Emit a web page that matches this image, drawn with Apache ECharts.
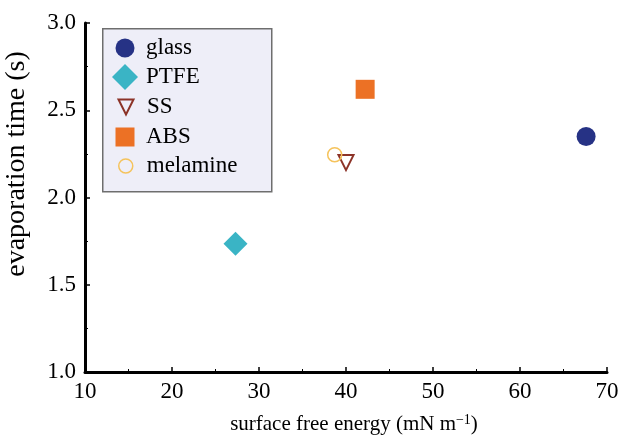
<!DOCTYPE html>
<html><head><meta charset="utf-8">
<script src="https://cdn.jsdelivr.net/npm/echarts@6/dist/echarts.min.js"></script>
<style>html,body{margin:0;padding:0;background:#fff}#c{width:622px;height:435px}</style>
</head><body><div id="c"></div>
<script>
const seriesNames = ['glass', 'PTFE', 'SS', 'ABS', 'melamine'];
const surfaceEnergy = [67.6, 27.3, 40.0, 42.2, 38.7];
const evapTime = [2.35, 1.735, 2.20, 2.62, 2.245];
const xTicks = [10, 20, 30, 40, 50, 60, 70];
const yTicks = [1.0, 1.5, 2.0, 2.5, 3.0];

const styles = [
  {symbol: 'circle', size: 19, legend: [19, 19], itemStyle: {color: '#263285', opacity: 1}},
  {symbol: 'diamond', size: 24, legend: [26, 26], itemStyle: {color: '#3ab4c5', opacity: 1}},
  {symbol: 'path://M0,0 L10,0 L5,10 Z', size: [15, 15], legend: [15, 15], itemStyle: {color: 'rgba(0,0,0,0)', borderColor: '#8c3328', borderWidth: 2, opacity: 1}},
  {symbol: 'rect', size: 19, legend: [19, 19], itemStyle: {color: '#ec7125', opacity: 1}},
  {symbol: 'circle', size: 14, legend: [14, 14], itemStyle: {color: 'rgba(0,0,0,0)', borderColor: '#f5c35c', borderWidth: 1.5, opacity: 1}}
];

const serif = 'Liberation Serif, Times New Roman, serif';
const rowCenters = [48, 77, 107, 137, 166];
const legends = seriesNames.map((n, i) => {
  const [w, h] = styles[i].legend;
  const lh = 24;
  return {
    orient: 'vertical', left: 125 - w / 2, top: rowCenters[i] - Math.max(h, lh) / 2,
    padding: 0, itemWidth: w, itemHeight: h, selectedMode: false,
    textStyle: {fontFamily: serif, fontSize: 23, lineHeight: lh, color: '#000', padding: [0, 0, 0, 16 - w / 2]},
    data: [{name: n, icon: styles[i].symbol, itemStyle: styles[i].itemStyle}]
  };
});

const chart = echarts.init(document.getElementById('c'), null, {renderer: 'canvas'});
chart.setOption({
  animation: false,
  graphic: [{type: 'rect', left: 102, top: 28, z: -10, silent: true,
    shape: {width: 169, height: 163},
    style: {fill: '#eeeef8', stroke: '#6e6e6e', lineWidth: 1.5}}],
  grid: {left: 85, right: 15, top: 23, bottom: 63, containLabel: false, outerBoundsMode: 'none'},
  legend: legends,
  xAxis: {
    type: 'value', min: xTicks[0], max: xTicks[xTicks.length - 1], interval: 10,
    name: 'surface free energy (mN m{sup|−1})', nameLocation: 'middle', nameGap: 41,
    nameTextStyle: {fontFamily: serif, fontSize: 21, color: '#000', padding: [0, 0, 0, 16],
      rich: {sup: {fontFamily: serif, fontSize: 14, color: '#000', padding: [0, 0, 9, 0]}}},
    axisLine: {show: true, lineStyle: {color: '#000', width: 3}},
    axisTick: {show: true, inside: true, length: 5, lineStyle: {color: '#000', width: 1.5}},
    minorTick: {show: true, splitNumber: 2, length: 3, lineStyle: {color: '#000', width: 1}},
    axisLabel: {fontFamily: serif, fontSize: 23, color: '#000', margin: 8},
    splitLine: {show: false}
  },
  yAxis: {
    type: 'value', min: yTicks[0], max: yTicks[yTicks.length - 1], interval: 0.5,
    name: 'evaporation time (s)', nameLocation: 'middle', nameGap: 54,
    nameTextStyle: {fontFamily: serif, fontSize: 28, color: '#000', padding: [0, 0, 0, 67]},
    axisLine: {show: true, lineStyle: {color: '#000', width: 3}},
    axisTick: {show: true, inside: true, length: 5, lineStyle: {color: '#000', width: 1.5}},
    minorTick: {show: true, splitNumber: 2, length: 3, lineStyle: {color: '#000', width: 1}},
    axisLabel: {fontFamily: serif, fontSize: 23, color: '#000', margin: 9, formatter: v => v.toFixed(1)},
    splitLine: {show: false}
  },
  series: seriesNames.map((n, i) => ({
    name: n, type: 'scatter',
    symbol: styles[i].symbol, symbolSize: styles[i].size,
    itemStyle: styles[i].itemStyle,
    data: [[surfaceEnergy[i], evapTime[i]]]
  }))
});
</script></body></html>
